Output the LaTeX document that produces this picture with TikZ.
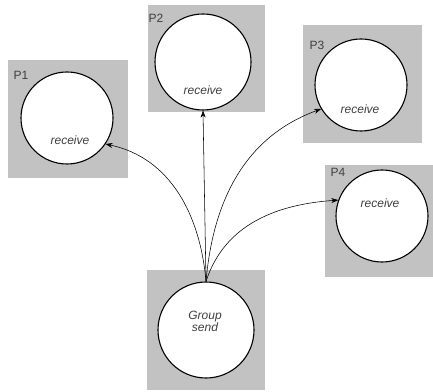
\documentclass[tikz,border=0pt]{standalone}
\usepackage{fontspec}
\setmainfont{Liberation Sans}
\usetikzlibrary{arrows.meta}

\begin{document}
\begin{tikzpicture}[%
		x=1pt,y=1pt,
		>={Stealth[length=7pt,width=5pt]},
		font=\fontsize{12}{14}\selectfont,
		procbox/.style={%
			fill=gray!48,
			inner sep=0pt
		},
		proc/.style={%
			circle,
			draw,
			line width=1.1pt,
			fill=white,
			minimum size=#1,
			inner sep=0pt
		},
		lbl/.style={%
			text=black!75
		},
		msg/.style={%
			->,
			line width=0.55pt
		}
		]
		\useasboundingbox (0,0) rectangle (433,391);
		% grey process areas
		\node[procbox,minimum width=120,minimum height=118] (b1) at (68,272)    {};
		\node[procbox,minimum width=117,minimum height=107] (b2) at (206.5,332.5) {};
		\node[procbox,minimum width=119,minimum height=118] (b3) at (362.5,307) {};
		\node[procbox,minimum width=108,minimum height=112] (b4) at (379,170)   {};
		\node[procbox,minimum width=118,minimum height=120] (b0) at (206,61)    {};
		
		% processes
		\node[proc=92] (p1) at (67,273)  {};
		\node[proc=96] (p2) at (203,329) {};
		\node[proc=92] (p3) at (361,306) {};
		\node[proc=92] (p4) at (382,175) {};
		\node[proc=96] (send) at (206,61) {};
		
		% labels
		\node[lbl,anchor=west] (l1) at (10,316)  {P1};
		\node[lbl,anchor=west] (l2) at (145,373) {P2};
		\node[lbl,anchor=west] (l3) at (306,346) {P3};
		\node[lbl,anchor=west] (l4) at (327,219) {P4};
		\node[lbl] (r1) at (70,251)  {\itshape receive};
		\node[lbl] (r2) at (203,301) {\itshape receive};
		\node[lbl] (r3) at (360,282) {\itshape receive};
		\node[lbl] (r4) at (380,188) {\itshape receive};
		\node[lbl,align=center] (g) at (205,70) {\itshape Group\\[-2pt]\itshape send};
		
		% group messages
		\draw[msg] (send.north) to[out=95,in=-12] (p1.-34);
		\draw[msg] (send.north) -- (p2.south);
		\draw[msg] (send.north) to[out=85,in=200] (p3.211);
		\draw[msg] (send.north) to[out=72,in=184] (p4.160);
\end{tikzpicture}
\end{document}
